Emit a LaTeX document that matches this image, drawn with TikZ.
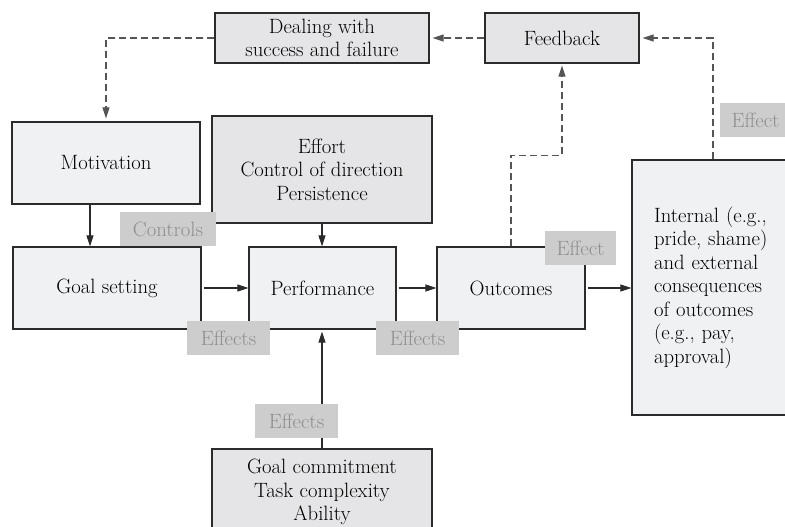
\documentclass[tikz,border=0pt]{standalone}
\usepackage{fontspec}
\usetikzlibrary{arrows.meta,calc}
\definecolor{boxlight}{HTML}{F0F1F3}
\definecolor{boxdark}{HTML}{E5E5E7}
\definecolor{labfill}{HTML}{CDCDCD}
\definecolor{labtext}{HTML}{8E8E8E}
\definecolor{edgec}{HTML}{2B2B2B}
\definecolor{dashc}{HTML}{555555}
\begin{document}
\begin{tikzpicture}[x=1pt,y=-1pt,
  txt/.style={font=\rmfamily\fontsize{20.7}{23.5}\selectfont},
  lightbox/.style={txt,draw=edgec,line width=1.2pt,fill=boxlight,inner sep=0pt,align=center},
  darkbox/.style={lightbox,fill=boxdark},
  lab/.style={txt,fill=labfill,text=labtext,inner sep=0pt,minimum height=34pt},
  arr/.style={draw=edgec,line width=1.1pt,-{Triangle[length=11pt,width=7pt]}},
  dasharr/.style={draw=dashc,line width=1.2pt,dash pattern=on 7pt off 4pt,-{Triangle[length=11pt,width=7pt]}}
]
\useasboundingbox[fill=white] (0,0) rectangle (785,527);

% boxes
\node[darkbox,minimum width=214pt,minimum height=50pt] (deal) at (322,38) {Dealing with\\success and failure};
\node[darkbox,minimum width=154pt,minimum height=50pt] (feed) at (562,38) {Feedback};
\node[lightbox,minimum width=188pt,minimum height=82pt] (motiv) at (106,163) {Motivation};
\node[darkbox,minimum width=220pt,minimum height=107pt] (effort) at (322,169.5) {Effort\\Control of direction\\Persistence};
\node[lightbox,minimum width=188pt,minimum height=82pt] (goal) at (107,288) {Goal setting};
\node[lightbox,minimum width=147pt,minimum height=82pt] (perf) at (322.5,288) {Performance};
\node[lightbox,minimum width=148pt,minimum height=82pt] (outc) at (511,288) {Outcomes};
\node[lightbox,minimum width=162pt,minimum height=255pt,text width=118pt,align=left] (intern) at (713,287.5)
  {Internal (e.g.,\\pride, shame)\\and external\\consequences\\of outcomes\\(e.g., pay,\\approval)};
\node[darkbox,minimum width=220pt,minimum height=86pt] (bottom) at (322,492) {Goal commitment\\Task complexity\\Ability};

% solid arrows
\draw[arr] ([xshift=-16pt]motiv.south) -- ([xshift=-16pt]motiv.south |- goal.north);
\draw[arr] (effort.south) -- (effort.south |- perf.north);
\draw[arr,shorten <=2pt] (goal.east) -- (perf.west);
\draw[arr,shorten <=2pt] (perf.east) -- (outc.west);
\draw[arr,shorten <=2pt] (outc.east) -- (outc.east -| intern.west);
\draw[arr,shorten >=2pt] (bottom.north) -- (bottom.north |- perf.south);

% dashed arrows
\draw[dasharr,shorten >=3pt] (deal.west) -| (motiv.north);
\draw[dasharr,shorten >=3pt] (feed.west) -- (deal.east);
\draw[dasharr,shorten >=2pt] (outc.north) -- ++(0,-91) -| (feed.south);
\draw[dasharr,shorten >=3pt] (intern.north) |- (feed.east);

% labels
\node[lab,minimum width=96pt] (l1) at (168,229) {Controls};
\node[lab,minimum width=83pt] (l2) at (228.5,338) {Effects};
\node[lab,minimum width=83pt] (l3) at (417.5,338) {Effects};
\node[lab,minimum width=71pt] (l4) at (580.5,248) {Effect};
\node[lab,minimum width=71pt] (l5) at (755.5,120) {Effect};
\node[lab,minimum width=83pt] (l6) at (296.5,421) {Effects};
\end{tikzpicture}
\end{document}
